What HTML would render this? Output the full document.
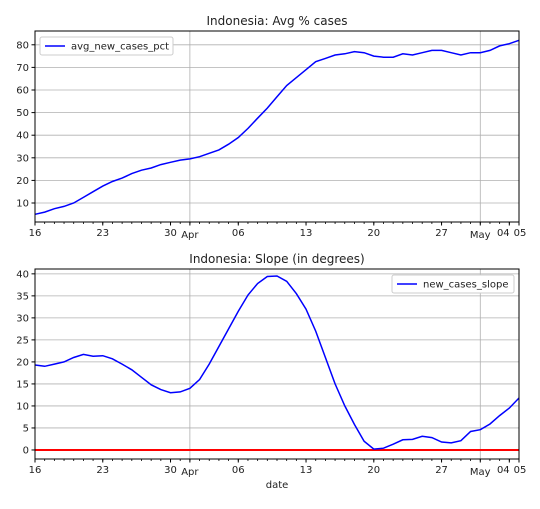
<!DOCTYPE html>
<html><head><meta charset="utf-8"><style>
body{margin:0;background:#fff;font-family:"Liberation Sans","DejaVu Sans",sans-serif}
svg text{font-family:"DejaVu Sans","Liberation Sans",sans-serif;fill:#222}
</style></head><body>
<svg id="c" width="540" height="504"></svg>
<script>
const topValues=[5,6,7.5,8.5,10,12.5,15,17.5,19.5,21,23,24.5,25.5,27,28,29,29.5,30.5,32,33.5,36,39,43,47.5,52,57,62,65.5,69,72.5,74,75.5,76,77,76.5,75,74.5,74.5,76,75.5,76.5,77.5,77.5,76.5,75.5,76.5,76.5,77.5,79.5,80.5,82];
const slopeValues=[19.3,19,19.5,20,21,21.7,21.3,21.4,20.7,19.5,18.2,16.5,14.8,13.7,13,13.2,14,16,19.5,23.5,27.5,31.5,35.2,37.8,39.4,39.5,38.3,35.5,32,27,21,15,10,5.8,2,0.2,0.4,1.3,2.3,2.4,3.1,2.8,1.8,1.6,2.1,4.2,4.6,5.9,7.8,9.5,11.8];
const topTicks=[10,20,30,40,50,60,70,80];
const slopeTicks=[0,5,10,15,20,25,30,35,40];
const xTickDays=[0,7,14,16,21,28,35,42,46,49,50];
const xTickLabels=["16","23","30","Apr","06","13","20","27","May","04","05"];
const NS="http://www.w3.org/2000/svg",svg=document.getElementById('c');
function el(t,a,p){const e=document.createElementNS(NS,t);for(const k in a)e.setAttribute(k,a[k]);(p||svg).appendChild(e);return e;}
const x0=35,x1=519,nDays=50;
const X=d=>x0+(x1-x0)*d/nDays;
function panel(cfg){
  const Y=v=>cfg.yb-(v-cfg.vmin)*(cfg.yb-cfg.yt)/(cfg.vmax-cfg.vmin);
  const g=el('g',{});
  
  
  cfg.ticks.forEach(t=>{
    const l=el('line',{x1:x0,x2:x1,y1:Y(t),y2:Y(t),stroke:'#b0b0b0','stroke-width':0.8},g);
    
    el('line',{x1:x0-3.5,x2:x0,y1:Y(t),y2:Y(t),stroke:'#000'},g);
    const tx=el('text',{x:x0-6,y:Y(t)+3.5,'text-anchor':'end','font-size':10},g);tx.textContent=t;
    
  });
  [16,46].forEach(d=>{const l=el('line',{x1:X(d),x2:X(d),y1:cfg.yt,y2:cfg.yb,stroke:'#b0b0b0','stroke-width':0.8},g);
    });
  for(let d=0;d<=nDays;d++)el('line',{x1:X(d),x2:X(d),y1:cfg.yb,y2:cfg.yb+2,stroke:'#000','stroke-width':0.8},g);
  xTickDays.forEach((d,i)=>{
    const lab=xTickLabels[i],maj=(lab=="Apr"||lab=="May");
    el('line',{x1:X(d),x2:X(d),y1:cfg.yb,y2:cfg.yb+3.5,stroke:'#000'},g);
    let xx=X(d);if(lab=="04")xx-=6;if(lab=="05")xx+=1;
    const tx=el('text',{x:xx,y:cfg.yb+(maj?16:14),'text-anchor':'middle','font-size':10},g);tx.textContent=lab;
    
  });
  if(cfg.zero){const z=el('line',{x1:x0,x2:x1,y1:Y(0),y2:Y(0),stroke:'#ff0000','stroke-width':2},g);
    }
  const pts=cfg.values.map((v,i)=>X(i).toFixed(1)+','+Y(v).toFixed(1)).join(' ');
  const pl=el('polyline',{points:pts,fill:'none',stroke:'#0000ff','stroke-width':1.5},g);
  
  el('rect',{x:x0,y:cfg.yt,width:x1-x0,height:cfg.yb-cfg.yt,fill:'none',stroke:'#000','stroke-width':1},g);
  const ti=el('text',{x:(x0+x1)/2,y:cfg.yt-6,'text-anchor':'middle','font-size':12},g);ti.textContent=cfg.title;
  
  const lg=el('g',{},g);
  el('rect',{x:cfg.lx,y:cfg.ly,width:cfg.lw,height:18,fill:'#fff',stroke:'#ccc',rx:2},lg);
  el('line',{x1:cfg.lx+5,x2:cfg.lx+25,y1:cfg.ly+9,y2:cfg.ly+9,stroke:'#0000ff','stroke-width':1.5},lg);
  const lt=el('text',{x:cfg.lx+31,y:cfg.ly+12.5,'font-size':10},lg);lt.textContent=cfg.series;
  return Y;
}
panel({name:'top-panel',yt:31,yb:222,vmin:1.6,vmax:86.1,ticks:topTicks,values:topValues,title:'Indonesia: Avg % cases',series:'avg_new_cases_pct',lx:40,ly:37,lw:133});
panel({name:'slope-panel',yt:269,yb:459,vmin:-2.05,vmax:41.1,ticks:slopeTicks,values:slopeValues,title:'Indonesia: Slope (in degrees)',series:'new_cases_slope',lx:392,ly:275,lw:122,zero:true});
const xl=el('text',{x:277,y:488,'text-anchor':'middle','font-size':10});xl.textContent='date';

</script>
</body></html>
